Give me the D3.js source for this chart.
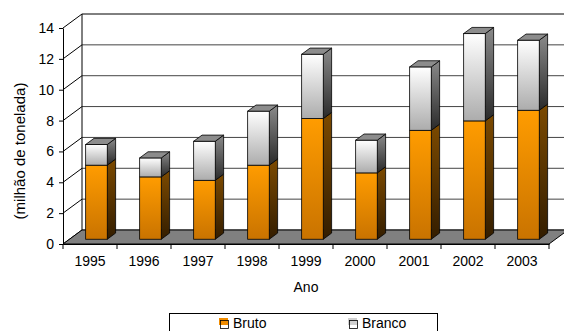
<!DOCTYPE html>
<html>
<head>
<meta charset="utf-8">
<script src="https://cdn.jsdelivr.net/npm/d3@7"></script>
<style>
  body { margin: 0; background: #fff; }
  text { font-family: "Liberation Sans", Arial, sans-serif; fill: #000; }
</style>
</head>
<body>
<svg id="chart" width="564" height="331"></svg>
<script>
// Produção anual (milhão de tonelada)
const years  = ["1995", "1996", "1997", "1998", "1999", "2000", "2001", "2002", "2003"];
const bruto  = [4.80, 4.04, 3.82, 4.80, 7.82, 4.30, 7.06, 7.67, 8.36];
const branco = [1.34, 1.23, 2.53, 3.50, 4.17, 2.12, 4.11, 5.66, 4.54];
const seriesNames = ["Bruto", "Branco"];
const yTicks = [0, 2, 4, 6, 8, 10, 12, 14];
const yTitle = "(milhão de tonelada)";
const xTitle = "Ano";

const svg = d3.select("#chart");

// Front plane scales; the 3D depth is an offset (DX, DY)
const x = d3.scaleBand().domain(years).range([63, 549]).paddingInner(0.6).paddingOuter(0.3);
const y = d3.scaleLinear().domain([0, 14]).range([244, 28]);
const DX = 19, DY = -14;
const F0 = 0.34, F1 = 0.78;   // front / back plane of the columns inside the depth

// Gradients
const defs = svg.append("defs");
function vGrad(id, top, bottom) {
  const g = defs.append("linearGradient").attr("id", id)
    .attr("x1", 0).attr("y1", 0).attr("x2", 0).attr("y2", 1);
  g.append("stop").attr("offset", "0%").attr("stop-color", top);
  g.append("stop").attr("offset", "100%").attr("stop-color", bottom);
}
vGrad("gBrutoFront", "#ff9c00", "#c97300");
vGrad("gBrutoSide", "#7c4a00", "#331d00");
vGrad("gBrancoFront", "#ffffff", "#acacac");
vGrad("gBrancoSide", "#8a8a8a", "#2a2a2a");

const x0 = x.range()[0], x1 = x.range()[1];

// Back wall gridlines
const wall = svg.append("g");
wall.selectAll("line.grid").data(yTicks).join("line")
  .attr("x1", x0 + DX).attr("x2", x1 + DX)
  .attr("y1", d => y(d) + DY).attr("y2", d => y(d) + DY)
  .attr("stroke", d => d === 14 ? "#000" : "#444").attr("stroke-width", 1);
// Back wall left edge
wall.append("line")
  .attr("x1", x0 + DX).attr("x2", x0 + DX)
  .attr("y1", y(0) + DY).attr("y2", y(14) + DY)
  .attr("stroke", "#000");
// Side wall diagonals
wall.selectAll("line.diag").data(yTicks).join("line")
  .attr("x1", x0).attr("y1", d => y(d))
  .attr("x2", x0 + DX).attr("y2", d => y(d) + DY)
  .attr("stroke", "#000").attr("stroke-width", 1);

// Floor
svg.append("polygon")
  .attr("points", [[x0, y(0)], [x1, y(0)], [x1 + DX, y(0) + DY], [x0 + DX, y(0) + DY]].map(p => p.join(",")).join(" "))
  .attr("fill", "#808080").attr("stroke", "#000").attr("stroke-width", 1);

// Columns
const bw = x.bandwidth();
const stacks = years.map((yr, i) => ({
  year: yr,
  segs: [
    { v0: 0, v1: bruto[i], front: "url(#gBrutoFront)", side: "url(#gBrutoSide)" },
    { v0: bruto[i], v1: bruto[i] + branco[i], front: "url(#gBrancoFront)", side: "url(#gBrancoSide)" }
  ]
}));
const pts = arr => arr.map(p => p.join(",")).join(" ");

const barG = svg.append("g");
stacks.forEach(s => {
  const xl = x(s.year), xr = xl + bw;
  const g = barG.append("g");
  s.segs.forEach((seg, k) => {
    const yt = y(seg.v1), yb = y(seg.v0);
    // side face
    g.append("polygon")
      .attr("points", pts([[xr + F0 * DX, yt + F0 * DY], [xr + F1 * DX, yt + F1 * DY],
                           [xr + F1 * DX, yb + F1 * DY], [xr + F0 * DX, yb + F0 * DY]]))
      .attr("fill", seg.side).attr("stroke", "#000").attr("stroke-width", 0.8);
    // front face
    g.append("rect")
      .attr("x", xl + F0 * DX).attr("y", yt + F0 * DY)
      .attr("width", bw).attr("height", yb - yt)
      .attr("fill", seg.front).attr("stroke", "#000").attr("stroke-width", 0.8);
    // top face on the upper segment
    if (k === s.segs.length - 1) {
      g.append("polygon")
        .attr("points", pts([[xl + F0 * DX, yt + F0 * DY], [xr + F0 * DX, yt + F0 * DY],
                             [xr + F1 * DX, yt + F1 * DY], [xl + F1 * DX, yt + F1 * DY]]))
        .attr("fill", "#8c8c8c").attr("stroke", "#000").attr("stroke-width", 0.8);
    }
  });
});

// Y axis
const yAxis = svg.append("g").attr("transform", `translate(${x0},0)`)
  .call(d3.axisLeft(y).tickValues(yTicks).tickSize(4).tickSizeOuter(0).tickPadding(5));
yAxis.selectAll("text").style("font-size", "14px");
yAxis.select(".domain").attr("stroke", "#000");

// X axis: labels centred, ticks on category boundaries
const xAxis = svg.append("g").attr("transform", `translate(0,${y(0)})`)
  .call(d3.axisBottom(x).tickSize(0).tickPadding(12));
xAxis.selectAll("text").style("font-size", "14px");
xAxis.select(".domain").attr("stroke", "#000");
const bounds = d3.range(years.length + 1).map(i => x0 + i * x.step());
xAxis.selectAll("line.bound").data(bounds).join("line")
  .attr("class", "bound")
  .attr("x1", d => d).attr("x2", d => d)
  .attr("y1", 0).attr("y2", 5).attr("stroke", "#000");

// Axis titles
svg.append("text")
  .attr("transform", `translate(25,${(y(0) + y(14)) / 2 + 15}) rotate(-90)`)
  .attr("text-anchor", "middle").style("font-size", "15px").text(yTitle);
svg.append("text")
  .attr("x", (x0 + x1) / 2).attr("y", 292)
  .attr("text-anchor", "middle").style("font-size", "14px").text(xTitle);

// Legend
const legend = svg.append("g");
legend.append("rect").attr("x", 169.5).attr("y", 313.5).attr("width", 268).attr("height", 30)
  .attr("fill", "#fff").attr("stroke", "#000");
const legendX = [219, 348];
seriesNames.forEach((name, i) => {
  const lg = legend.append("g").attr("transform", `translate(${legendX[i]},318)`);
  lg.append("rect").attr("x", 0).attr("y", 0).attr("width", 9).attr("height", 7)
    .attr("fill", i === 0 ? "#f08c00" : "#d0d0d0");
  lg.append("rect").attr("x", 1.5).attr("y", 2.5).attr("width", 8).attr("height", 8)
    .attr("fill", "none").attr("stroke", "#000").attr("stroke-width", 0.8);
  lg.append("text").attr("x", 14).attr("y", 9.5).style("font-size", "14px").text(name);
});
</script>
</body>
</html>
